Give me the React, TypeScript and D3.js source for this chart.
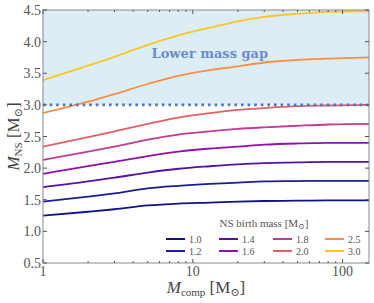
import React from 'react';
import * as d3 from 'd3';

// companion mass grid (M_sun) and NS mass curves
const compMass = [1, 2, 3, 5, 8, 13, 20, 30, 50, 80, 150];
const m10 = [1.25, 1.31, 1.35, 1.41, 1.44, 1.455, 1.47, 1.48, 1.485, 1.49, 1.49];
const m12 = [1.47, 1.55, 1.6, 1.68, 1.72, 1.75, 1.77, 1.79, 1.795, 1.8, 1.8];
const m14 = [1.7, 1.79, 1.85, 1.93, 1.99, 2.03, 2.06, 2.08, 2.09, 2.1, 2.1];
const m16 = [1.91, 2.03, 2.1, 2.19, 2.26, 2.31, 2.34, 2.37, 2.39, 2.4, 2.4];
const m18 = [2.13, 2.26, 2.34, 2.45, 2.53, 2.58, 2.62, 2.645, 2.67, 2.69, 2.7];
const m20 = [2.34, 2.49, 2.58, 2.7, 2.8, 2.87, 2.92, 2.95, 2.98, 2.99, 3.0];
const m25 = [2.87, 3.05, 3.17, 3.33, 3.46, 3.55, 3.61, 3.67, 3.71, 3.73, 3.75];
const m30 = [3.39, 3.62, 3.76, 3.95, 4.1, 4.22, 4.32, 4.39, 4.44, 4.47, 4.48];

const birthLabels = ['1.0', '1.2', '1.4', '1.6', '1.8', '2.0', '2.5', '3.0'];
const seriesValues = [m10, m12, m14, m16, m18, m20, m25, m30];
const lineColors = ['#14108a', '#1d1a96', '#5510a8', '#8e12b0', '#c03a98', '#e0606a', '#f98f45', '#f7c62a'];

const yTicks = [0.5, 1.0, 1.5, 2.0, 2.5, 3.0, 3.5, 4.0, 4.5];
const xMajor = [1, 10, 100];
const xMinor = [2, 3, 4, 5, 6, 7, 8, 9, 20, 30, 40, 50, 60, 70, 80, 90];
const gapLimit = 3.0;

const serif = "'Liberation Serif', 'DejaVu Serif', serif";
const gray = '#555';

export default function App() {
  const width = 374;
  const height = 303;
  const margin = { top: 10, right: 5, bottom: 40, left: 43 };
  const x0 = margin.left, x1 = width - margin.right;
  const y0 = height - margin.bottom, y1 = margin.top;

  const x = d3.scaleLog().domain([1, 150]).range([x0, x1]);
  const y = d3.scaleLinear().domain([0.5, 4.5]).range([y0, y1]);

  const line = d3.line<number>()
    .x((_, i) => x(compMass[i]))
    .y(d => y(d))
    .curve(d3.curveMonotoneX);

  const legendCols = [166, 219, 273, 325];
  const legendRows = [239, 251];

  return (
    <svg width={width} height={height} style={{ position: 'absolute', left: 0, top: 0 }}>
      {/* lower mass gap region */}
      <rect x={x0} y={y1} width={x1 - x0} height={y(gapLimit) - y1} fill="#ddedf5" />
      <text x={x(5.3)} y={y(3.74)} fontFamily="'DejaVu Serif', serif" fontWeight="bold"
        fontSize={13} fill="#6a8bcc">Lower mass gap</text>

      {seriesValues.map((vals, i) => (
        <path key={i} d={line(vals) || ''} fill="none" stroke={lineColors[i]} strokeWidth={1.8} />
      ))}

      <line x1={x0} x2={x1} y1={y(gapLimit)} y2={y(gapLimit)} stroke="#4d76c4"
        strokeWidth={2.6} strokeDasharray="2.6 4" />

      {/* frame */}
      <rect x={x0} y={y1} width={x1 - x0} height={y0 - y1} fill="none" stroke="#888" strokeWidth={1} />

      {/* y ticks */}
      {yTicks.map(t => (
        <g key={t}>
          <line x1={x0} x2={x0 + 4} y1={y(t)} y2={y(t)} stroke="#555" />
          <line x1={x1} x2={x1 - 4} y1={y(t)} y2={y(t)} stroke="#555" />
          <text x={x0 - 2} y={y(t) + 5} textAnchor="end" fontFamily={serif} fontSize={14} fill={gray}>
            {t.toFixed(1)}
          </text>
        </g>
      ))}

      {/* x ticks */}
      {xMajor.map(t => (
        <g key={t}>
          <line x1={x(t)} x2={x(t)} y1={y0} y2={y0 - 4} stroke="#555" />
          <line x1={x(t)} x2={x(t)} y1={y1} y2={y1 + 4} stroke="#555" />
          <text x={x(t)} y={y0 + 13} textAnchor="middle" fontFamily={serif} fontSize={14} fill={gray}>{t}</text>
        </g>
      ))}
      {xMinor.map(t => (
        <g key={t}>
          <line x1={x(t)} x2={x(t)} y1={y0} y2={y0 - 2} stroke="#555" />
          <line x1={x(t)} x2={x(t)} y1={y1} y2={y1 + 2} stroke="#555" />
        </g>
      ))}

      {/* axis labels */}
      <text x={(x0 + x1) / 2} y={293} textAnchor="middle" fontFamily={serif} fontSize={17} fill="#444">
        <tspan fontStyle="italic">M</tspan>
        <tspan fontSize={11} dy={3}>comp</tspan>
        <tspan dy={-3}> [M</tspan>
        <tspan fontSize={11} dy={3}>⊙</tspan>
        <tspan dy={-3}>]</tspan>
      </text>
      <text transform={`translate(19,${(y0 + y1) / 2}) rotate(-90)`} textAnchor="middle"
        fontFamily={serif} fontSize={17} fill="#444">
        <tspan fontStyle="italic">M</tspan>
        <tspan fontSize={11} dy={3}>NS</tspan>
        <tspan dy={-3}> [M</tspan>
        <tspan fontSize={11} dy={3}>⊙</tspan>
        <tspan dy={-3}>]</tspan>
      </text>

      {/* legend */}
      <text x={264} y={227} textAnchor="middle" fontFamily={serif} fontSize={11} fill={gray}>
        NS birth mass [M<tspan fontSize={8} dy={2}>⊙</tspan><tspan dy={-2}>]</tspan>
      </text>
      {birthLabels.map((lab, i) => {
        const cx = legendCols[Math.floor(i / 2)];
        const cy = legendRows[i % 2];
        return (
          <g key={lab}>
            <line x1={cx} x2={cx + 19} y1={cy} y2={cy} stroke={lineColors[i]} strokeWidth={2} />
            <text x={cx + 23} y={cy + 3.5} fontFamily={serif} fontSize={10} fill={gray}>{lab}</text>
          </g>
        );
      })}
    </svg>
  );
}
